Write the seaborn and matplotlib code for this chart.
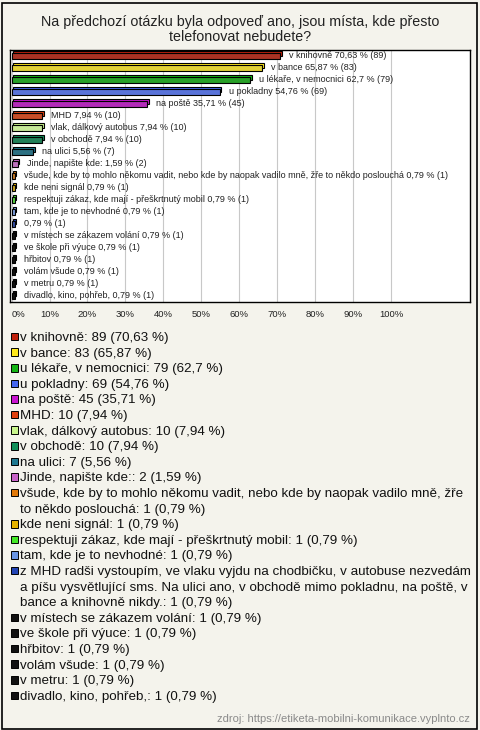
import numpy as np
import pandas as pd
import matplotlib
matplotlib.use("Agg")
import matplotlib.pyplot as plt
from matplotlib.patches import Rectangle
import seaborn as sns

# answers (legend labels), short labels shown next to the bars
names = ['v knihovně', 'v bance', 'u lékaře, v nemocnici', 'u pokladny', 'na poště',
         'MHD', 'vlak, dálkový autobus', 'v obchodě', 'na ulici', 'Jinde, napište kde:',
         'všude, kde by to mohlo někomu vadit, nebo kde by naopak vadilo mně, žře\nto někdo poslouchá',
         'kde neni signál', 'respektuji zákaz, kde mají - přeškrtnutý mobil', 'tam, kde je to nevhodné',
         'z MHD radši vystoupím, ve vlaku vyjdu na chodbičku, v autobuse nezvedám\na píšu vysvětlující sms. Na ulici ano, v obchodě mimo pokladnu, na poště, v\nbance a knihovně nikdy.',
         'v místech se zákazem volání', 've škole při výuce', 'hřbitov', 'volám všude', 'v metru',
         'divadlo, kino, pohřeb,']
bar_names = ['v knihovně', 'v bance', 'u lékaře, v nemocnici', 'u pokladny', 'na poště',
             'MHD', 'vlak, dálkový autobus', 'v obchodě', 'na ulici', 'Jinde, napište kde:',
             'všude, kde by to mohlo někomu vadit, nebo kde by naopak vadilo mně, žře to někdo poslouchá',
             'kde neni signál', 'respektuji zákaz, kde mají - přeškrtnutý mobil', 'tam, kde je to nevhodné',
             '', 'v místech se zákazem volání', 've škole při výuce', 'hřbitov', 'volám všude', 'v metru',
             'divadlo, kino, pohřeb,']
counts = [89, 83, 79, 69, 45, 10, 10, 10, 7, 2, 1, 1, 1, 1, 1, 1, 1, 1, 1, 1, 1]
pcts = [70.63, 65.87, 62.7, 54.76, 35.71, 7.94, 7.94, 7.94, 5.56, 1.59,
        0.79, 0.79, 0.79, 0.79, 0.79, 0.79, 0.79, 0.79, 0.79, 0.79, 0.79]
colors = ['#C0200C', '#FFE81A', '#14B414', '#4466EE', '#C814D0',
          '#E0400E', '#C8F58C', '#12905A', '#1E7890', '#C864C8',
          '#E07808', '#E8B400', '#44E828', '#6A96E6', '#2244B4',
          '#111111', '#111111', '#111111', '#111111', '#111111', '#111111']

df = pd.DataFrame({'name': names, 'pct': pcts})

bg = '#F4F3EC'
W, H = 480, 730
fig = plt.figure(figsize=(4.8, 7.3), dpi=100, facecolor=bg)
plt.rcParams['font.family'] = ['Liberation Sans', 'DejaVu Sans']

# plot box in pixels: x 10..470, y 50..302
ax = fig.add_axes([10 / W, 1 - 302 / H, 460 / W, 252 / H])
ax.set_facecolor('white')

bh = 0.42
sns.barplot(data=df, x='pct', y='name', hue='name', palette=colors, legend=False,
            orient='h', width=bh, edgecolor='black', linewidth=0.8, ax=ax, zorder=3)

# pseudo 3D depth: same bars shifted up/right behind the front face
ypos = np.arange(len(pcts))
ax.barh(ypos - 0.17, pcts, left=0.5, height=bh, color=colors,
        edgecolor='black', linewidth=0.8, zorder=2.5)

for i, (bn, p, n) in enumerate(zip(bar_names, pcts, counts)):
    ps = f'{p:g}'.replace('.', ',')
    lab = f'{bn} {ps} % ({n})' if bn else f'{ps} % ({n})'
    ax.text(p + 2.4, i, lab, va='center', ha='left', fontsize=6.5, color='#222222', zorder=4)

ax.set_xlim(-0.4, 120.7)
ax.set_ylim(len(pcts) - 0.5, -0.5)
ax.set_xticks(np.arange(0, 101, 10))
ax.set_xticklabels([f'{t}%' for t in range(0, 101, 10)], fontsize=6.8, color='#222222')
ax.get_xticklabels()[0].set_ha('left')
ax.tick_params(axis='x', length=0, pad=6)
ax.set_yticks([])
ax.set_xlabel('')
ax.set_ylabel('')
ax.grid(axis='x', color='#C8C8C8', linewidth=0.8, zorder=0)
ax.grid(axis='y', visible=False)
ax.set_axisbelow(True)
for s in ax.spines.values():
    s.set_color('black')
    s.set_linewidth(1.0)

fig.text(240 / W, 1 - 29.5 / H,
         'Na předchozí otázku byla odpoveď ano, jsou místa, kde přesto\ntelefonovat nebudete?',
         ha='center', va='center', fontsize=10.3, color='#222222', linespacing=1.05)

# legend drawn below the plot, one text per line
line_h = 15.6
y = 336.5
for name, n, p, c in zip(names, counts, pcts, colors):
    ps = f'{p:g}'.replace('.', ',')
    fig.patches.append(Rectangle((10.5 / W, 1 - (y + 3.8) / H), 7.5 / W, 7.5 / H,
                                 transform=fig.transFigure, facecolor=c,
                                 edgecolor='black', linewidth=0.7))
    lines = f'{name}: {n} ({ps} %)'.split('\n')
    for k, ln in enumerate(lines):
        fig.text(20 / W, 1 - (y + 4.5) / H, ln, ha='left', va='baseline',
                 fontsize=9.6, color='#111111')
        y += line_h

fig.text(470 / W, 1 - 719 / H, 'zdroj: https://etiketa-mobilni-komunikace.vyplnto.cz',
         ha='right', va='center', fontsize=8, color='#8A8A8A')

fig.patches.append(Rectangle((1.5 / W, 1.5 / H), 475.5 / W, 725.5 / H,
                             transform=fig.transFigure, facecolor='none',
                             edgecolor='black', linewidth=1.2))

fig.savefig('out.png', dpi=100, facecolor=bg)
